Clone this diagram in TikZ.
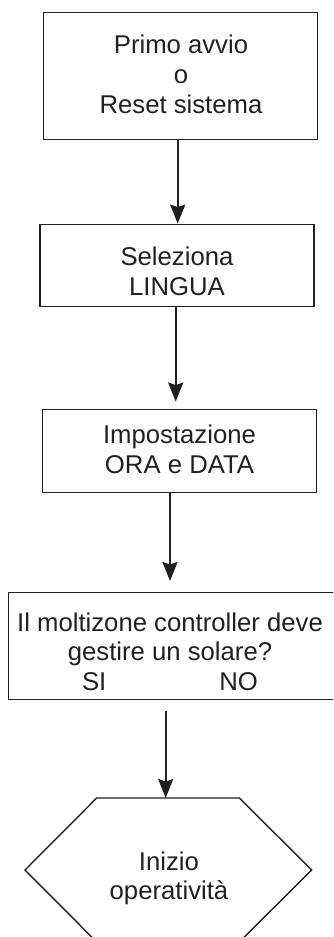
\documentclass[tikz,border=0pt]{standalone}
\usepackage{fontspec}
\setmainfont{Liberation Sans}
\usetikzlibrary{arrows.meta}
\definecolor{ink}{HTML}{231F20}
\begin{document}
\begin{tikzpicture}[x=1bp,y=-1bp,
  box/.style={draw=ink, line width=1.4bp, minimum width=274bp, inner sep=0pt},
  txt/.style={text=ink, align=center, font=\fontsize{25.8}{30}\selectfont, inner sep=0pt},
  arr/.style={draw=ink, line width=2bp, -{Stealth[length=19bp,width=15bp,inset=2.5bp]}},
  hexline/.style={draw=ink, line width=1.4bp, line join=miter}]
\useasboundingbox (0,0) rectangle (333,937);
\clip (0,0) rectangle (333,937);
% boxes
\node[box, minimum height=127bp] (b1) at (180.3,75.8) {};
\node[txt] (t1) at (181,74) {Primo avvio\\o\\Reset sistema};
\node[box, minimum height=82.4bp] (b2) at (177,265.5) {};
\node[txt] (t2) at (177,271) {Seleziona\\LINGUA};
\node[box, minimum height=83.4bp] (b3) at (179.7,451) {};
\node[txt] (t3) at (179.5,449) {Impostazione\\ORA e DATA};
\node[box, minimum height=107bp, minimum width=336.7bp] (b4) at (176.65,645.8) {};
\node[txt, font=\fontsize{25.8}{29.5}\selectfont] (t4) at (170,651.7) {Il moltizone controller deve\\gestire un solare?\\SI\hspace{113bp}NO};
% hexagon
\coordinate (h1) at (96.7,798);
\coordinate (h2) at (239.3,798);
\coordinate (h3) at (311.7,870);
\coordinate (h4) at (239.3,942);
\coordinate (h5) at (96.7,942);
\coordinate (h6) at (25,870);
\draw[hexline] (h1) -- (h2) -- (h3) -- (h4) -- (h5) -- (h6) -- cycle;
\node[txt] (t5) at (169,878.3) {Inizio\\operatività};
% arrows
\coordinate (x1) at (177.7,0);
\coordinate (x2) at (175.7,0);
\coordinate (x3) at (170,0);
\coordinate (x4) at (165.7,0);
\draw[arr] (b1.south -| x1) -- (b2.north -| x1);
\draw[arr, shorten >=7bp] (b2.south -| x2) -- (b3.north -| x2);
\draw[arr, shorten >=10.6bp] (b3.south -| x3) -- (b4.north -| x3);
\draw[arr, shorten <=10.7bp] (b4.south -| x4) -- (h1 -| x4);
\end{tikzpicture}
\end{document}
